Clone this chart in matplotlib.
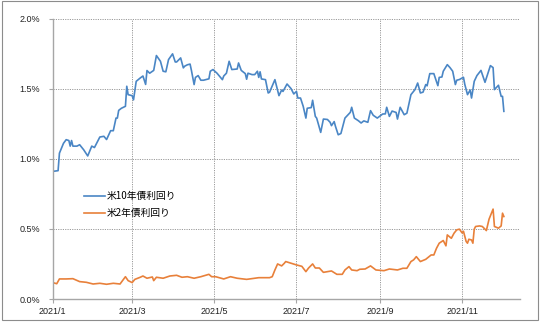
import pandas as pd
import matplotlib
matplotlib.use("Agg")
import matplotlib.pyplot as plt
import matplotlib.dates as mdates
from matplotlib.patches import Rectangle
from matplotlib.ticker import FuncFormatter

# 米10年債利回り (%)
us10_dates = [
    "01-01", "01-05", "01-06", "01-09", "01-11", "01-13", "01-14", "01-15", "01-16", "01-19",
    "01-21", "01-24", "01-27", "01-30", "02-01", "02-05", "02-08", "02-10", "02-13", "02-15",
    "02-17", "02-18", "02-19", "02-21", "02-24", "02-25", "02-26", "03-01", "03-02", "03-04",
    "03-07", "03-09", "03-11", "03-12", "03-14", "03-17", "03-19", "03-22", "03-24", "03-26",
    "03-28", "03-31", "04-02", "04-03", "04-06", "04-08", "04-09", "04-11", "04-13", "04-14",
    "04-16", "04-17", "04-19", "04-21", "04-23", "04-27", "04-28", "04-30", "05-03", "05-07",
    "05-08", "05-10", "05-12", "05-14", "05-18", "05-19", "05-21", "05-24", "05-25", "05-26",
    "05-29", "05-31", "06-02", "06-03", "06-04", "06-05", "06-08", "06-10", "06-11", "06-15",
    "06-18", "06-20", "06-21", "06-24", "06-27", "06-29", "07-01", "07-02", "07-04", "07-06",
    "07-08", "07-09", "07-12", "07-13", "07-15", "07-16", "07-19", "07-21", "07-24", "07-26",
    "07-27", "07-29", "07-30", "08-01", "08-03", "08-06", "08-10", "08-11", "08-13", "08-16",
    "08-18", "08-20", "08-23", "08-25", "08-27", "08-30", "09-03", "09-05", "09-06", "09-08",
    "09-10", "09-13", "09-14", "09-16", "09-19", "09-21", "09-24", "09-27", "09-29", "10-01",
    "10-03", "10-05", "10-06", "10-08", "10-11", "10-14", "10-15", "10-17", "10-18", "10-21",
    "10-23", "10-25", "10-27", "10-28", "10-30", "11-02", "11-03", "11-05", "11-07", "11-08",
    "11-10", "11-12", "11-15", "11-18", "11-22", "11-24", "11-25", "11-28", "11-30", "12-01",
    "12-02",
]
us10_values = [
    0.91, 0.915, 1.04, 1.11, 1.136, 1.13, 1.09, 1.13, 1.09, 1.09,
    1.10, 1.064, 1.02, 1.09, 1.08, 1.155, 1.16, 1.137, 1.20, 1.20,
    1.29, 1.29, 1.345, 1.36, 1.374, 1.517, 1.457, 1.45, 1.42, 1.552,
    1.576, 1.59, 1.53, 1.629, 1.61, 1.63, 1.736, 1.695, 1.624, 1.62,
    1.707, 1.748, 1.69, 1.69, 1.719, 1.648, 1.66, 1.67, 1.675, 1.63,
    1.529, 1.58, 1.593, 1.56, 1.56, 1.57, 1.624, 1.636, 1.61, 1.564,
    1.59, 1.61, 1.695, 1.636, 1.64, 1.683, 1.63, 1.607, 1.567, 1.61,
    1.60, 1.60, 1.624, 1.58, 1.62, 1.569, 1.564, 1.469, 1.474, 1.564,
    1.45, 1.49, 1.48, 1.533, 1.50, 1.462, 1.48, 1.433, 1.433, 1.374,
    1.29, 1.36, 1.365, 1.417, 1.302, 1.29, 1.188, 1.283, 1.28, 1.26,
    1.236, 1.265, 1.23, 1.171, 1.18, 1.29, 1.331, 1.367, 1.29, 1.271,
    1.255, 1.27, 1.26, 1.343, 1.31, 1.29, 1.319, 1.32, 1.367, 1.302,
    1.34, 1.33, 1.283, 1.367, 1.314, 1.325, 1.457, 1.493, 1.54, 1.469,
    1.475, 1.529, 1.52, 1.607, 1.607, 1.521, 1.58, 1.583, 1.624, 1.671,
    1.65, 1.624, 1.529, 1.56, 1.565, 1.581, 1.53, 1.457, 1.49, 1.433,
    1.552, 1.593, 1.63, 1.545, 1.664, 1.65, 1.493, 1.524, 1.445, 1.445,
    1.338,
]

# 米2年債利回り (%)
us2_dates = [
    "01-01", "01-04", "01-06", "01-11", "01-16", "01-21", "01-26", "01-31", "02-05", "02-10",
    "02-15", "02-20", "02-24", "02-26", "03-01", "03-03", "03-07", "03-09", "03-12", "03-16",
    "03-17", "03-19", "03-24", "03-29", "04-03", "04-07", "04-11", "04-16", "04-21", "04-27",
    "04-29", "05-02", "05-08", "05-13", "05-18", "05-25", "06-03", "06-11", "06-13", "06-15",
    "06-17", "06-20", "06-22", "06-23", "06-27", "07-01", "07-05", "07-08", "07-10", "07-13",
    "07-15", "07-18", "07-21", "07-24", "07-27", "07-31", "08-04", "08-06", "08-09", "08-11",
    "08-15", "08-17", "08-21", "08-25", "08-29", "09-04", "09-08", "09-14", "09-18", "09-21",
    "09-24", "09-26", "09-28", "10-01", "10-05", "10-09", "10-11", "10-13", "10-15", "10-18",
    "10-20", "10-21", "10-24", "10-26", "10-28", "10-30", "11-01", "11-02", "11-04", "11-05",
    "11-06", "11-08", "11-09", "11-10", "11-11", "11-14", "11-16", "11-19", "11-21", "11-24",
    "11-25", "11-28", "11-30", "12-01", "12-02",
]
us2_values = [
    0.117, 0.109, 0.143, 0.143, 0.145, 0.124, 0.119, 0.107, 0.112, 0.105,
    0.112, 0.107, 0.159, 0.131, 0.117, 0.14, 0.155, 0.164, 0.148, 0.157,
    0.131, 0.155, 0.148, 0.164, 0.169, 0.155, 0.159, 0.148, 0.159, 0.176,
    0.159, 0.159, 0.143, 0.159, 0.148, 0.14, 0.152, 0.152, 0.159, 0.207,
    0.25, 0.236, 0.255, 0.267, 0.255, 0.243, 0.233, 0.195, 0.221, 0.25,
    0.221, 0.221, 0.19, 0.195, 0.20, 0.176, 0.176, 0.207, 0.231, 0.207,
    0.202, 0.212, 0.214, 0.236, 0.207, 0.202, 0.214, 0.207, 0.219, 0.219,
    0.267, 0.279, 0.302, 0.267, 0.283, 0.314, 0.314, 0.362, 0.398, 0.417,
    0.379, 0.457, 0.433, 0.469, 0.493, 0.498, 0.471, 0.483, 0.41, 0.398,
    0.426, 0.421, 0.398, 0.498, 0.517, 0.521, 0.517, 0.488, 0.569, 0.641,
    0.517, 0.505, 0.521, 0.612, 0.588,
]

series_labels = ["米10年債利回り", "米2年債利回り"]
series_colors = ["#4a86c5", "#e8803a"]

x10 = pd.to_datetime(["2021-" + d for d in us10_dates])
x2 = pd.to_datetime(["2021-" + d for d in us2_dates])

plt.rcParams["font.family"] = ["Noto Sans CJK JP", "DejaVu Sans"]

fig = plt.figure(figsize=(5.4, 3.23), dpi=100)
fig.patches.append(Rectangle((0.004, 0.008), 0.992, 0.988, transform=fig.transFigure,
                             fill=False, edgecolor="#8c8c8c", linewidth=0.8))
ax = fig.add_axes([0.0976, 0.0743, 0.8654, 0.8684])

ax.plot(x10, us10_values, color=series_colors[0], linewidth=1.2, label=series_labels[0])
ax.plot(x2, us2_values, color=series_colors[1], linewidth=1.2, label=series_labels[1])

ax.set_ylim(0, 2.0)
ax.set_yticks([0, 0.5, 1.0, 1.5, 2.0])
ax.yaxis.set_major_formatter(FuncFormatter(lambda v, p: f"{v:.1f}%"))
ax.set_xlim(pd.Timestamp("2021-01-01"), pd.Timestamp("2021-12-14"))
ax.xaxis.set_major_locator(mdates.MonthLocator(bymonth=[1, 3, 5, 7, 9, 11]))
ax.xaxis.set_major_formatter(FuncFormatter(lambda v, p: f"{mdates.num2date(v).year}/{mdates.num2date(v).month}"))

ax.grid(True, color="#9a9a9a", linestyle=(0, (1.2, 1.2)), linewidth=0.7)
for s in ["top", "right"]:
    ax.spines[s].set_visible(False)
for s in ["left", "bottom"]:
    ax.spines[s].set_color("#a6a6a6")
    ax.spines[s].set_linewidth(1.0)
ax.tick_params(axis="both", colors="#a6a6a6", length=3, width=0.8, labelsize=6.5,
               labelcolor="#222222")
ax.tick_params(axis="y", pad=6)
ax.tick_params(axis="x", pad=3)
for lbl in ax.get_xticklabels() + ax.get_yticklabels():
    lbl.set_family(["Liberation Sans", "DejaVu Sans"])

ax.legend(loc="upper left", bbox_to_anchor=(0.066, 0.385), frameon=False, fontsize=7,
          handlelength=2.2, handletextpad=0.2, labelspacing=0.75, borderpad=0,
          borderaxespad=0)

fig.savefig("out.png", dpi=100)
